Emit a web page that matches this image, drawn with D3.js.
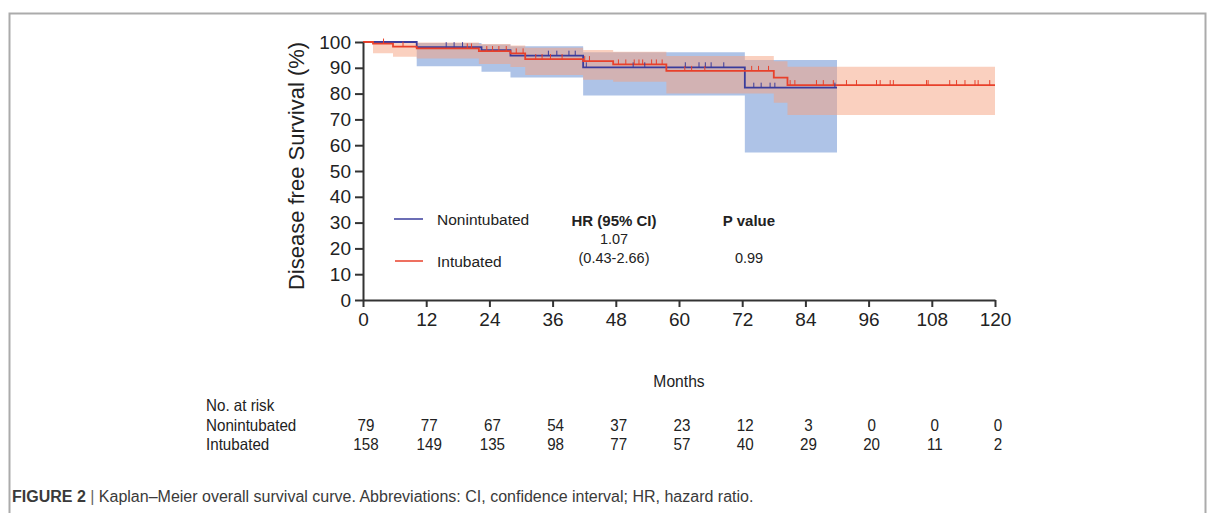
<!DOCTYPE html>
<html>
<head>
  <meta charset="utf-8">
  <script src="https://d3js.org/d3.v7.min.js"></script>
  <style>
    body { margin: 0; background: #fff; }
    svg { display: block; font-family: "Liberation Sans", Arial, sans-serif; }
  </style>
</head>
<body>
<script>
  // step times (months) and survival (%)
  var nonTimes = [0, 10.2, 22.5, 28, 41.8, 72.5];
  var nonSurv  = [100, 98.0, 96.8, 94.7, 90.2, 82.3];
  var nonUpper = [100, 99.6, 99.0, 98.4, 96.0, 93.0];
  var nonLower = [100, 90.6, 88.5, 86.2, 79.3, 57.2];
  var nonEnd = 90;
  var nonCensor = [15.8, 17.3, 18.9, 35.2, 36.8, 39.1, 40.3, 42.4, 51.3, 53.5, 61.2, 63.8, 65.0, 66.1, 68.5, 74.2, 75.6, 77.3, 78.2, 89.6];

  var intTimes = [0, 1.9, 5.7, 10.2, 22, 28, 30.8, 41.8, 47.5, 57.6, 78, 80.6];
  var intSurv  = [100, 99.4, 98.2, 97.5, 96.5, 95.6, 93.4, 92.6, 91.3, 88.8, 86.2, 83.3];
  var intUpper = [100, 100, 100, 99.8, 99.2, 98.6, 97.8, 96.9, 96.2, 94.6, 92.5, 90.4];
  var intLower = [100, 95.6, 94.3, 93.6, 91.5, 90.3, 87.2, 85.4, 84.6, 80.0, 76.5, 71.7];
  var intEnd = 120;
  var intCensor = [3.9, 7.6, 19.8, 20.6, 23.5, 24.6, 25.8, 27.2, 29.1, 30.4, 32.8, 34.0, 35.6, 37.8, 42.1, 43.0,
    48.5, 49.9, 51.5, 52.4, 53.1, 54.8, 55.7, 56.8, 61.1, 62.4, 64.9, 73.8, 75.1, 77.0, 81.1, 82.0, 86.1, 87.4,
    89.3, 91.8, 93.7, 97.5, 98.2, 100.1, 100.7, 107.0, 107.3, 111.4, 112.7, 114.3, 116.2, 116.8, 119.0];

  var xTicks = [0, 12, 24, 36, 48, 60, 72, 84, 96, 108, 120];
  var yTicks = [0, 10, 20, 30, 40, 50, 60, 70, 80, 90, 100];
  var riskNon = [79, 77, 67, 54, 37, 23, 12, 3, 0, 0, 0];
  var riskInt = [158, 149, 135, 98, 77, 57, 40, 29, 20, 11, 2];

  var W = 1211, H = 513;
  var svg = d3.select("body").append("svg")
    .attr("width", W).attr("height", H);

  svg.append("rect").attr("width", W).attr("height", H).attr("fill", "#fff");

  // figure frame (open at the bottom)
  svg.append("path")
    .attr("d", "M9.5,513 V13.5 H1205.5 V513")
    .attr("fill", "none")
    .attr("stroke", "#ababab")
    .attr("stroke-width", 2);

  var x = d3.scaleLinear().domain([0, 120]).range([363, 995]);
  var y = d3.scaleLinear().domain([0, 100]).range([300, 42]);

  function steps(times, vals, end) {
    var pts = times.map(function (t, i) { return [t, vals[i]]; });
    pts.push([end, vals[vals.length - 1]]);
    return pts;
  }
  function bandPts(times, lo, hi, end) {
    var pts = times.map(function (t, i) { return {t: t, lo: lo[i], hi: hi[i]}; });
    pts.push({t: end, lo: lo[lo.length - 1], hi: hi[hi.length - 1]});
    return pts;
  }
  function survAt(times, vals, t) {
    var i = d3.bisectRight(times, t) - 1;
    return vals[Math.max(i, 0)];
  }

  var area = d3.area()
    .curve(d3.curveStepAfter)
    .x(function (d) { return x(d.t); })
    .y0(function (d) { return y(d.lo); })
    .y1(function (d) { return y(d.hi); });

  var line = d3.line()
    .curve(d3.curveStepAfter)
    .x(function (d) { return x(d[0]); })
    .y(function (d) { return y(d[1]); });

  // confidence bands
  svg.append("path")
    .datum(bandPts(nonTimes, nonLower, nonUpper, nonEnd))
    .attr("d", area)
    .attr("fill", "#aec3e7");

  svg.append("path")
    .datum(bandPts(intTimes, intLower, intUpper, intEnd))
    .attr("d", area)
    .attr("fill", "#f5a27f")
    .attr("fill-opacity", 0.5);

  // survival curves
  var blue = "#3a3c9c", red = "#e8402b";

  svg.append("path")
    .datum(steps(nonTimes, nonSurv, nonEnd))
    .attr("d", line)
    .attr("fill", "none")
    .attr("stroke", blue)
    .attr("stroke-width", 1.8);

  svg.append("path")
    .datum(steps(intTimes, intSurv, intEnd))
    .attr("d", line)
    .attr("fill", "none")
    .attr("stroke", red)
    .attr("stroke-width", 1.8);

  // censor marks
  svg.selectAll(".cn").data(nonCensor).enter().append("line")
    .attr("x1", function (d) { return x(d); })
    .attr("x2", function (d) { return x(d); })
    .attr("y1", function (d) { return y(survAt(nonTimes, nonSurv, d)); })
    .attr("y2", function (d) { return y(survAt(nonTimes, nonSurv, d)) - 5; })
    .attr("stroke", blue).attr("stroke-width", 1);

  svg.selectAll(".ci").data(intCensor).enter().append("line")
    .attr("x1", function (d) { return x(d); })
    .attr("x2", function (d) { return x(d); })
    .attr("y1", function (d) { return y(survAt(intTimes, intSurv, d)); })
    .attr("y2", function (d) { return y(survAt(intTimes, intSurv, d)) - 5; })
    .attr("stroke", red).attr("stroke-width", 1);

  // axes
  var axisColor = "#333";
  var xAxis = svg.append("g")
    .attr("transform", "translate(0,300)")
    .call(d3.axisBottom(x).tickValues(xTicks).tickSize(7).tickPadding(6).tickSizeOuter(0));
  var yAxis = svg.append("g")
    .attr("transform", "translate(363,0)")
    .call(d3.axisLeft(y).tickValues(yTicks).tickSize(8).tickPadding(4).tickSizeOuter(0));

  [xAxis, yAxis].forEach(function (g) {
    g.select(".domain").attr("stroke", axisColor).attr("stroke-width", 2);
    g.selectAll(".tick line").attr("stroke", axisColor).attr("stroke-width", 2);
    g.selectAll(".tick text")
      .attr("fill", "#222")
      .style("font-size", "19px")
      .style("font-family", "'Liberation Sans', Arial, sans-serif");
  });

  svg.append("text")
    .attr("transform", "translate(304,166) rotate(-90)")
    .attr("text-anchor", "middle")
    .attr("fill", "#222")
    .style("font-size", "22px")
    .text("Disease free Survival (%)");

  // legend and HR box
  var legend = svg.append("g").style("font-size", "15.5px").attr("fill", "#222");
  legend.append("line").attr("x1", 394).attr("x2", 423).attr("y1", 219).attr("y2", 219)
    .attr("stroke", blue).attr("stroke-width", 1.5);
  legend.append("text").attr("x", 437).attr("y", 225).text("Nonintubated");
  legend.append("line").attr("x1", 395).attr("x2", 423).attr("y1", 261).attr("y2", 261)
    .attr("stroke", red).attr("stroke-width", 1.5);
  legend.append("text").attr("x", 437).attr("y", 267).text("Intubated");

  legend.append("text").attr("x", 614).attr("y", 226).attr("text-anchor", "middle")
    .style("font-weight", "bold").style("font-size", "15px").text("HR (95% CI)");
  legend.append("text").attr("x", 614).attr("y", 244).attr("text-anchor", "middle")
    .style("font-size", "14.5px").text("1.07");
  legend.append("text").attr("x", 614).attr("y", 263).attr("text-anchor", "middle")
    .style("font-size", "14.5px").text("(0.43-2.66)");
  legend.append("text").attr("x", 749).attr("y", 226).attr("text-anchor", "middle")
    .style("font-weight", "bold").style("font-size", "15px").text("P value");
  legend.append("text").attr("x", 749).attr("y", 263).attr("text-anchor", "middle")
    .style("font-size", "14.5px").text("0.99");

  // number at risk table (condensed type)
  function narrow(px, py, str, anchor, size) {
    svg.append("text")
      .attr("transform", "translate(" + px + "," + py + ") scale(0.92,1)")
      .attr("text-anchor", anchor || "start")
      .attr("fill", "#222")
      .style("font-size", (size || 16.5) + "px")
      .text(str);
  }
  narrow(679, 387, "Months", "middle", 17);
  narrow(206, 411, "No. at  risk");
  narrow(206, 431, "Nonintubated");
  narrow(206, 450, "Intubated");
  riskNon.forEach(function (v, i) { narrow(x(xTicks[i]) + 3, 431, v, "middle"); });
  riskInt.forEach(function (v, i) { narrow(x(xTicks[i]) + 3, 450, v, "middle"); });

  // caption
  var cap = svg.append("text")
    .attr("x", 12).attr("y", 502)
    .attr("fill", "#3a3a3a")
    .style("font-size", "16px");
  cap.append("tspan").style("font-weight", "bold").text("FIGURE 2");
  cap.append("tspan").attr("fill", "#666").text(" | ");
  cap.append("tspan").text("Kaplan\u2013Meier overall survival curve. Abbreviations: CI, confidence interval; HR, hazard ratio.");
</script>
</body>
</html>
